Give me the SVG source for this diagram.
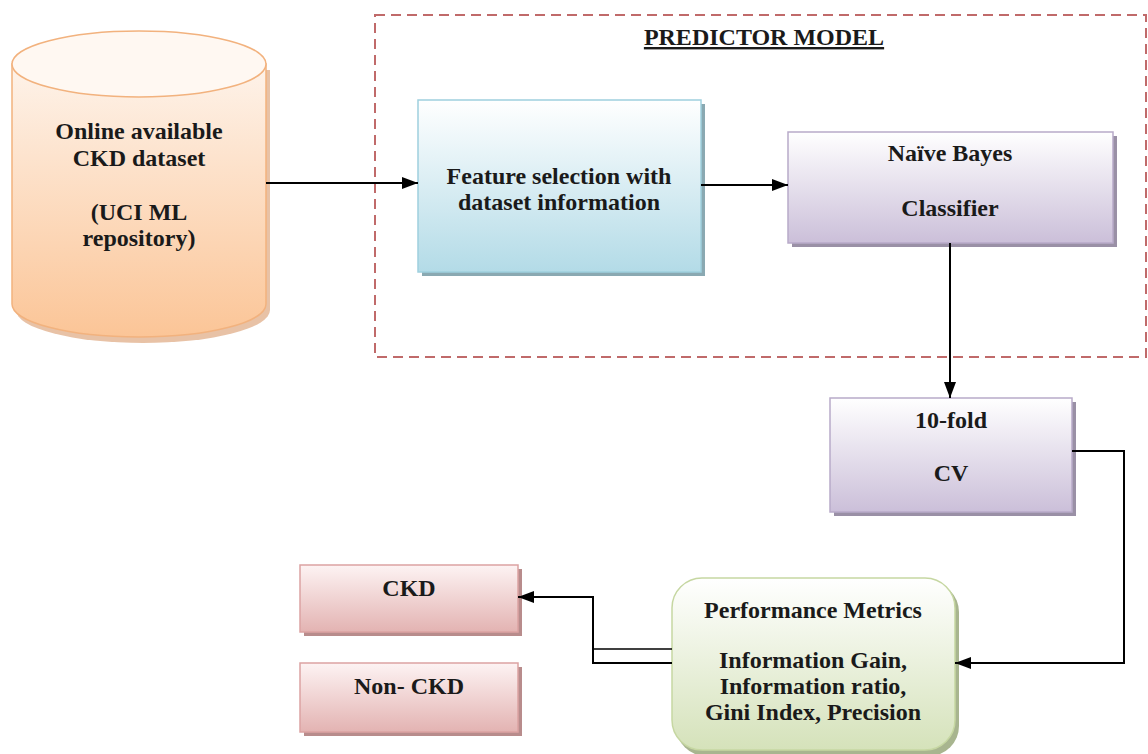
<svg xmlns="http://www.w3.org/2000/svg" width="1148" height="754" viewBox="0 0 1148 754">
<style>
  text { font-family: "Liberation Serif", "Times New Roman", serif; font-weight: bold; font-size: 24px; fill: #1a1a1a; text-anchor: middle; }
  .conn { fill: none; stroke: #000; stroke-width: 2; }
  .thin { fill: none; stroke: #000; stroke-width: 1.6; }
</style>
<defs>
  <linearGradient id="gOrange" x1="0" y1="0" x2="0" y2="1">
    <stop offset="0" stop-color="#fef3ea"/>
    <stop offset="1" stop-color="#fbc597"/>
  </linearGradient>
  <linearGradient id="gBlue" x1="0" y1="0" x2="0" y2="1">
    <stop offset="0" stop-color="#ffffff"/>
    <stop offset="1" stop-color="#b3dbe7"/>
  </linearGradient>
  <linearGradient id="gPurple" x1="0" y1="0" x2="0" y2="1">
    <stop offset="0" stop-color="#ffffff"/>
    <stop offset="1" stop-color="#cbbfd9"/>
  </linearGradient>
  <linearGradient id="gPink" x1="0" y1="0" x2="0" y2="1">
    <stop offset="0" stop-color="#fdf3f3"/>
    <stop offset="1" stop-color="#e3b3b2"/>
  </linearGradient>
  <linearGradient id="gGreen" x1="0" y1="0" x2="0" y2="1">
    <stop offset="0" stop-color="#ffffff"/>
    <stop offset="1" stop-color="#d5e2ba"/>
  </linearGradient>
  <marker id="arrow" viewBox="0 0 16 12" refX="16" refY="6" markerWidth="16" markerHeight="12" markerUnits="userSpaceOnUse" orient="auto">
    <path d="M0,0 L16,6 L0,12 Z" fill="#000"/>
  </marker>
</defs>
<rect width="1148" height="754" fill="#ffffff"/>

<g id="predictor-model">
  <rect x="375" y="15" width="771" height="342" fill="none" stroke="#c06a6a" stroke-width="2" stroke-dasharray="10,6"/>
  <text x="764" y="45" style="text-decoration: underline;">PREDICTOR MODEL</text>
</g>

<g id="dataset">
  <path d="M16,70 L16,310 A127,33 0 0 0 270,310 L270,70 Z" fill="#d89a6a" opacity="0.6"/>
  <path d="M12,64 L12,304 A127,33 0 0 0 266,304 L266,64 Z" fill="url(#gOrange)" stroke="#f2b27e" stroke-width="1.5"/>
  <ellipse cx="139" cy="64" rx="127" ry="33" fill="#fff8f2" stroke="#f2b27e" stroke-width="1.5"/>
  <text x="139" y="139">Online available</text>
  <text x="139" y="166">CKD dataset</text>
  <text x="139" y="220">(UCI ML</text>
  <text x="139" y="246">repository)</text>
</g>

<g id="feature-selection">
  <rect x="422" y="104" width="283" height="172" fill="#8aa9b2"/>
  <rect x="418" y="100" width="283" height="172" fill="url(#gBlue)" stroke="#9fd0de" stroke-width="1.5"/>
  <text x="559" y="184">Feature selection with</text>
  <text x="559" y="210">dataset information</text>
</g>

<g id="naive-bayes">
  <rect x="792" y="136" width="325" height="111" fill="#9a90a6"/>
  <rect x="788" y="132" width="325" height="111" fill="url(#gPurple)" stroke="#b8aac9" stroke-width="1.5"/>
  <text x="950" y="161">Naïve Bayes</text>
  <text x="950" y="216">Classifier</text>
</g>

<g id="cv">
  <rect x="834" y="402" width="242" height="114" fill="#9a90a6"/>
  <rect x="830" y="398" width="242" height="114" fill="url(#gPurple)" stroke="#b8aac9" stroke-width="1.5"/>
  <text x="951" y="428">10-fold</text>
  <text x="951" y="481">CV</text>
</g>

<g id="performance">
  <rect x="676" y="582" width="283" height="174" rx="30" ry="30" fill="#a8b58f"/>
  <rect x="672" y="578" width="283" height="172" rx="30" ry="30" fill="url(#gGreen)" stroke="#c6d7a2" stroke-width="1.5"/>
  <text x="813" y="618">Performance Metrics</text>
  <text x="813" y="668">Information Gain,</text>
  <text x="813" y="694">Information ratio,</text>
  <text x="813" y="720">Gini Index, Precision</text>
</g>

<g id="ckd">
  <rect x="304" y="569" width="218" height="67" fill="#b88c8c"/>
  <rect x="300" y="565" width="218" height="67" fill="url(#gPink)" stroke="#dba3a2" stroke-width="1.5"/>
  <text x="409" y="596">CKD</text>
</g>

<g id="non-ckd">
  <rect x="304" y="667" width="218" height="69" fill="#b88c8c"/>
  <rect x="300" y="663" width="218" height="69" fill="url(#gPink)" stroke="#dba3a2" stroke-width="1.5"/>
  <text x="409" y="694">Non- CKD</text>
</g>

<g id="connectors">
  <path class="conn" d="M266,183 L418,183" marker-end="url(#arrow)"/>
  <path class="conn" d="M701,185 L788,185" marker-end="url(#arrow)"/>
  <path class="conn" d="M950,243 L950,398" marker-end="url(#arrow)"/>
  <path class="conn" d="M1072,451 L1124,451 L1124,663 L955,663" marker-end="url(#arrow)"/>
  <path class="conn" d="M672,663 L593,663 L593,597 L518,597" marker-end="url(#arrow)"/>
  <path class="thin" d="M672,649 L593,649"/>
</g>
</svg>
